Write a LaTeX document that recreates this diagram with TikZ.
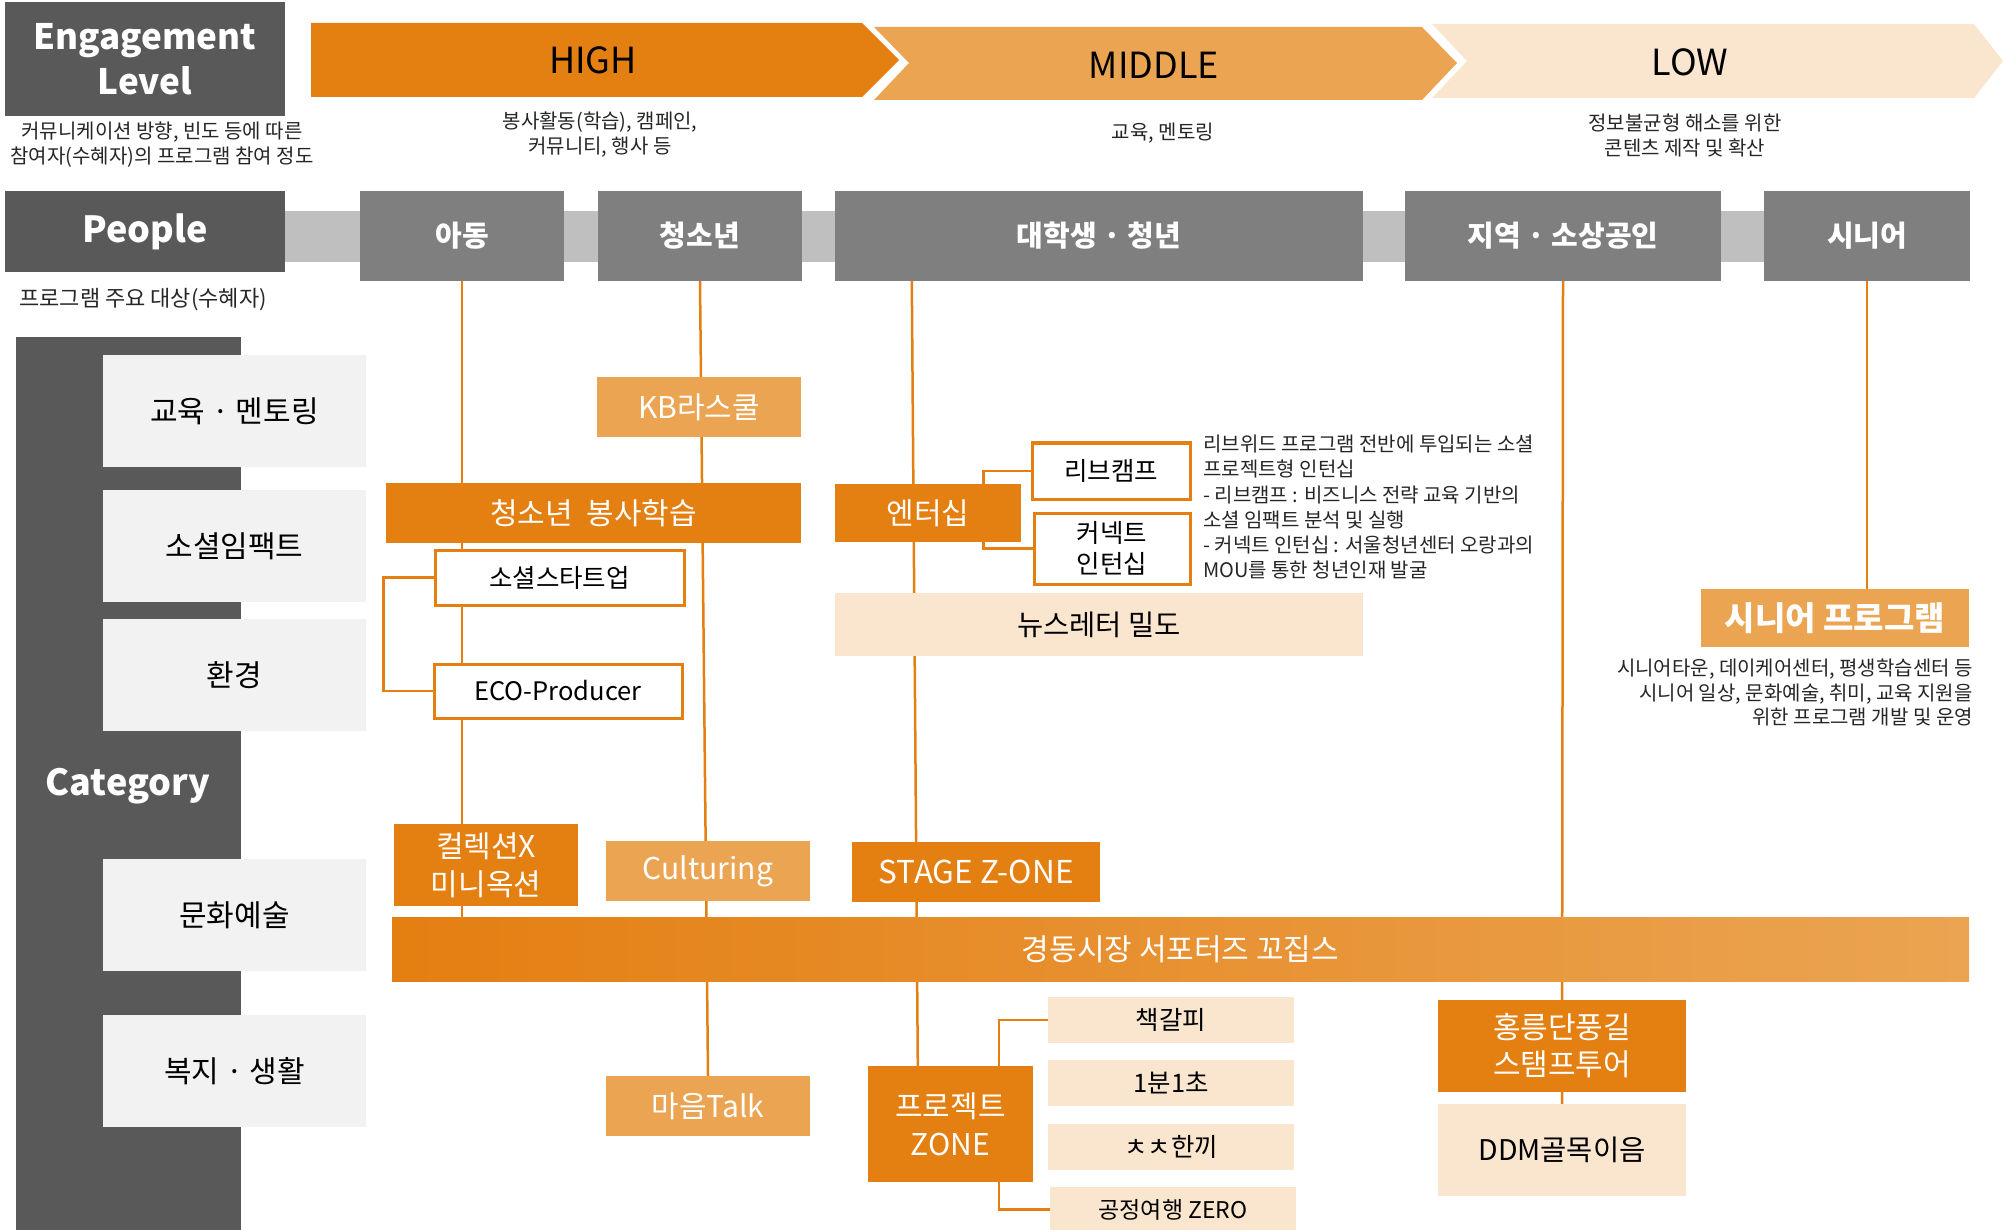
\documentclass[tikz,border=0pt]{standalone}
\usepackage{fontspec}
\setmainfont{Noto Sans CJK KR}
\usetikzlibrary{shapes}
\usetikzlibrary{backgrounds}
\usetikzlibrary{calc}
\definecolor{engdark}{HTML}{595959}
\definecolor{pplgray}{HTML}{7F7F7F}
\definecolor{bandgray}{HTML}{BFBFBF}
\definecolor{catgray}{HTML}{F2F2F2}
\definecolor{hiorange}{HTML}{E47F12}
\definecolor{midorange}{HTML}{EBA452}
\definecolor{loworange}{HTML}{FAE5CF}
\definecolor{txtgray}{HTML}{262626}

\begin{document}
\begin{tikzpicture}[x=1pt,y=-1pt]
			\tikzstyle{every node}=[inner sep=0pt, font=\fontsize{30}{36}\selectfont]
			\tikzstyle{head}=[fill=engdark, text=white, font=\bfseries\fontsize{36}{44}\selectfont]
			\tikzstyle{who}=[fill=pplgray, text=white, minimum height=90pt, font=\bfseries\fontsize{29}{34}\selectfont]
			\tikzstyle{cat}=[fill=catgray, text=black, minimum width=263pt, minimum height=112pt]
			\tikzstyle{hibox}=[fill=hiorange, text=white]
			\tikzstyle{midbox}=[fill=midorange, text=white]
			\tikzstyle{lowbox}=[fill=loworange, text=black]
			\tikzstyle{subbox}=[draw=hiorange, line width=3pt, fill=white, text=black, font=\fontsize{25.5}{31}\selectfont]
			\tikzstyle{tinybox}=[lowbox, minimum width=246pt, minimum height=46pt, font=\fontsize{25.5}{30}\selectfont]
			\tikzstyle{level}=[text=black, font=\fontsize{36}{44}\selectfont]
			\tikzstyle{note}=[text=txtgray, font=\fontsize{20}{25}\selectfont]
			\tikzstyle{link}=[draw=hiorange, line width=2.5pt]

			\useasboundingbox (0,0) rectangle (2003,1230);

			% engagement level
			\node[head, minimum width=280pt, minimum height=114pt, align=center, font=\bfseries\fontsize{35}{45}\selectfont] (engage) at (145,59) {Engagement\\Level};
			\fill[hiorange] (311,23) -- (862,23) -- (899,60) -- (862,97) -- (311,97) -- cycle;
			\fill[midorange] (874,27) -- (1422,27) -- (1457,63) -- (1422,100) -- (874,100) -- (909,63) -- cycle;
			\fill[loworange] (1432,24) -- (1974,24) -- (2003,61) -- (1974,98) -- (1432,98) -- (1467,61) -- cycle;
			\node[level] (high) at (593,60) {HIGH};
			\node[level] (middle) at (1154,65) {MIDDLE};
			\node[level] (low) at (1690,62) {LOW};
			\node[note, align=center] (engagenote) at (162,145) {커뮤니케이션 방향, 빈도 등에 따른\\참여자(수혜자)의 프로그램 참여 정도};
			\node[note, align=center] (highnote) at (600,135) {봉사활동(학습), 캠페인,\\커뮤니티, 행사 등};
			\node[note] (middlenote) at (1163,133) {교육, 멘토링};
			\node[note, align=center] (lownote) at (1685,135) {정보불균형 해소를 위한\\콘텐츠 제작 및 확산};

			% people
			\node[head, minimum width=280pt, minimum height=81pt] (people) at (145,232) {People};
			\node[who, minimum width=204pt] (child) at (462,236) {아동};
			\node[who, minimum width=204pt] (teen) at (700,236) {청소년};
			\node[who, minimum width=528pt] (univ) at (1099,236) {대학생 · 청년};
			\node[who, minimum width=316pt] (region) at (1563,236) {지역 · 소상공인};
			\node[who, minimum width=206pt] (senior) at (1867,236) {시니어};
			\node[note, font=\fontsize{22}{26}\selectfont] (peoplenote) at (143,300) {프로그램 주요 대상(수혜자)};

			% category
			\fill[engdark] (16,337) rectangle (241,1230);
			\node[text=white, font=\bfseries\fontsize{36}{44}\selectfont] (category) at (128,786) {Category};
			\node[cat] (edu) at (234.5,411) {교육 · 멘토링};
			\node[cat] (impact) at (234.5,546) {소셜임팩트};
			\node[cat] (env) at (234.5,675) {환경};
			\node[cat] (culture) at (234.5,915) {문화예술};
			\node[cat] (welfare) at (234.5,1071) {복지 · 생활};

			% programs
			\node[midbox, minimum width=204pt, minimum height=60pt] (kb) at (699,407) {KB라스쿨};
			\node[hibox, minimum width=415pt, minimum height=60pt] (volunteer) at (593.5,513) {청소년\ \ 봉사학습};
			\node[subbox, minimum width=249pt, minimum height=55pt] (startup) at (559.5,577.5) {소셜스타트업};
			\node[subbox, minimum width=248pt, minimum height=54pt] (eco) at (558,691) {ECO-Producer};
			\node[hibox, minimum width=186pt, minimum height=58pt] (intern) at (928,513) {엔터십};
			\node[subbox, minimum width=158pt, minimum height=56pt] (livecamp) at (1111,471) {리브캠프};
			\node[subbox, minimum width=156pt, minimum height=71pt, align=center] (connect) at (1112,548.5) {커넥트\\인턴십};
			\node[note, anchor=north west, align=left, font=\fontsize{20}{25.2}\selectfont] (internnote) at (1203,435) {리브위드 프로그램 전반에 투입되는 소셜\\프로젝트형 인턴십\\- 리브캠프 : 비즈니스 전략 교육 기반의\\소셜 임팩트 분석 및 실행\\- 커넥트 인턴십 : 서울청년센터 오랑과의\\MOU를 통한 청년인재 발굴};
			\node[lowbox, minimum width=528pt, minimum height=63pt, font=\fontsize{28.5}{32}\selectfont] (news) at (1099,624.5) {뉴스레터 밀도};
			\node[midbox, minimum width=268pt, minimum height=58pt, font=\bfseries\fontsize{33}{38}\selectfont] (srprog) at (1835,618) {시니어 프로그램};
			\node[note, anchor=north east, align=right, font=\fontsize{20}{24.5}\selectfont] (srnote) at (1973,659) {시니어타운, 데이케어센터, 평생학습센터 등\\시니어 일상, 문화예술, 취미, 교육 지원을\\위한 프로그램 개발 및 운영};
			\node[hibox, minimum width=184pt, minimum height=82pt, align=center, font=\fontsize{30}{38}\selectfont] (auction) at (486,865) {컬렉션X\\미니옥션};
			\node[midbox, minimum width=204pt, minimum height=60pt] (culturing) at (708,871) {Culturing};
			\node[hibox, minimum width=248pt, minimum height=60pt, font=\fontsize{31.5}{36}\selectfont] (stage) at (976,872) {STAGE Z-ONE};
			\node[left color=hiorange, right color=midorange, text=white, minimum width=1577pt, minimum height=64pt] (market) at (1180.5,949) {경동시장 서포터즈 꼬집스};
			\node[midbox, minimum width=204pt, minimum height=60pt] (maum) at (708,1106) {마음Talk};
			\node[hibox, minimum width=165pt, minimum height=116pt, align=center, font=\fontsize{30}{38}\selectfont] (zone) at (950.5,1124) {프로젝트\\ZONE};
			\node[tinybox] (bookmark) at (1171,1020) {책갈피};
			\node[tinybox] (minute) at (1171,1083) {1분1초};
			\node[tinybox] (meal) at (1171,1147) {ㅊㅊ한끼};
			\node[tinybox, font=\fontsize{23}{28}\selectfont] (zero) at (1173,1209.5) {공정여행 ZERO};
			\node[hibox, minimum width=248pt, minimum height=92pt, align=center, font=\fontsize{30}{37}\selectfont] (hongreung) at (1562,1046) {홍릉단풍길\\스탬프투어};
			\node[lowbox, minimum width=248pt, minimum height=92pt, font=\fontsize{28.5}{32}\selectfont] (ddm) at (1562,1150) {DDM골목이음};

			\begin{pgfonlayer}{background}
				\fill[bandgray] (285,211) rectangle (1764,262);
				\draw[link] (child.south) -- (child.south |- market.north);
				\draw[link] (teen.south) -- (maum.north);
				\draw[link] ($(univ.south west)+(77,0)$) -- ($(zone.north west)+(50,0)$);
				\draw[link] (region.south) -- (ddm.north);
				\draw[link] (senior.south) -- (senior.south |- srprog.north);
				\draw[link] (startup.west) -- ++(-50,0) |- (eco.west);
				\draw[link] (livecamp.west) -- ++(-47,0) |- (connect.west);
				\draw[link] (bookmark.west) -- ++(-49,0) |- (zero.west);
			\end{pgfonlayer}
\end{tikzpicture}
\end{document}
